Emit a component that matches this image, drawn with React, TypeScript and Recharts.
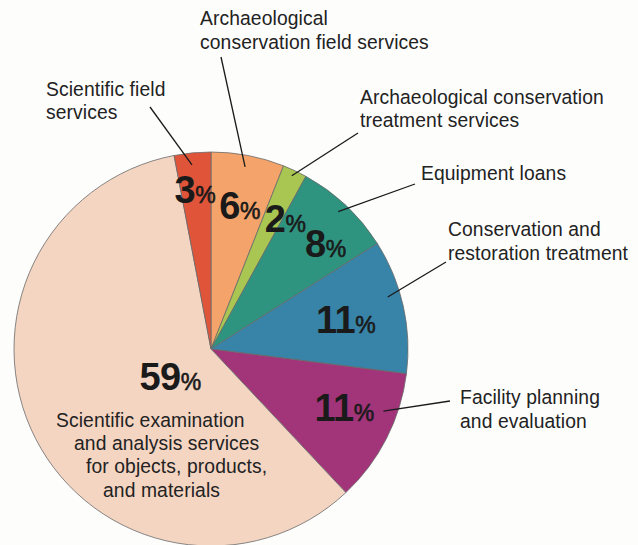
import React from "react";
import { PieChart, Pie, Cell } from "recharts";

// Slices, clockwise from 12 o'clock
const categories = [
  "Archaeological conservation field services",
  "Archaeological conservation treatment services",
  "Equipment loans",
  "Conservation and restoration treatment",
  "Facility planning and evaluation",
  "Scientific examination and analysis services for objects, products, and materials",
  "Scientific field services",
];
const shares = [6, 2, 8, 11, 11, 59, 3];
const labelLines = [
  ["Archaeological", "conservation field services"],
  ["Archaeological conservation", "treatment services"],
  ["Equipment loans"],
  ["Conservation and", "restoration treatment"],
  ["Facility planning", "and evaluation"],
  ["Scientific examination", "and analysis services", "for objects, products,", "and materials"],
  ["Scientific field", "services"],
];
const colors = ["#f4a46a", "#a9c653", "#2e9480", "#3784a8", "#a2347a", "#f4d5c2", "#e0553a"];

// label layout (angles in degrees clockwise relative to slice middle, radii as fraction of outer radius)
const layout = [
  { pOff: 0.6, pR: 0.74, lOff: -0.2, lR: 0.94, to: [221, 57], tx: [200], ty: [25, 49] },
  { pOff: 4.6, pR: 0.76, lOff: -0.2, lR: 0.97, to: [358, 133], tx: [360], ty: [104, 127] },
  { pOff: 4.2, pR: 0.79, lOff: -0.4, lR: 0.95, to: [415, 184], tx: [421], ty: [180] },
  { pOff: 0.4, pR: 0.7, lOff: -3.8, lR: 0.935, to: [446, 262], tx: [448], ty: [236, 260] },
  { pOff: -3.2, pR: 0.74, lOff: -7.2, lR: 0.93, to: [450, 401], tx: [460], ty: [404, 428] },
  { pOff: -7.3, pR: 0.25, lOff: 0, lR: 0, to: null, tx: [56, 74, 86, 103], ty: [427, 450, 473, 497] },
  { pOff: -0.3, pR: 0.81, lOff: -0.5, lR: 0.94, to: [150, 107], tx: [46], ty: [96, 119] },
];

const data = categories.map((name, i) => ({ name, value: shares[i] }));
const FONT = '"Liberation Sans", Arial, Helvetica, sans-serif';

const renderLabel = (props: any) => {
  const { cx, cy, midAngle, outerRadius, index, value } = props;
  const L = layout[index];
  const mid = 90 - midAngle;
  const pt = (deg: number, frac: number) => {
    const a = (deg * Math.PI) / 180;
    return [cx + outerRadius * frac * Math.sin(a), cy - outerRadius * frac * Math.cos(a)];
  };
  const [px, py] = pt(mid + L.pOff, L.pR);
  const lines = labelLines[index];
  return (
    <g key={`lab-${index}`}>
      <text
        x={px}
        y={py + 13}
        textAnchor="middle"
        fontFamily={FONT}
        fill="#1a1a1a"
      >
        <tspan fontSize={38} fontWeight="bold" letterSpacing={-0.5}>{value}</tspan>
        <tspan fontSize={23} stroke="#1a1a1a" strokeWidth={0.6}>%</tspan>
      </text>
      {L.to && (() => {
        const [lx, ly] = pt(mid + L.lOff, L.lR);
        return <line x1={lx} y1={ly} x2={L.to[0]} y2={L.to[1]} stroke="#1a1a1a" strokeWidth={1.3} />;
      })()}
      {lines.map((s, j) => (
        <text
          key={j}
          x={L.tx[Math.min(j, L.tx.length - 1)]}
          y={L.ty[j]}
          fontFamily={FONT}
          fontSize={19.3}
          letterSpacing={0.1}
          fill="#222"
        >
          {s}
        </text>
      ))}
    </g>
  );
};

export default function App() {
  return (
    <div style={{ position: "absolute", left: 0, top: 0, width: 638, height: 545, background: "#fdfdfc" }}>
      <PieChart width={638} height={545} margin={{ top: 0, right: 0, bottom: 0, left: 0 }}>
        <Pie
          data={data}
          dataKey="value"
          nameKey="name"
          cx={211}
          cy={349}
          outerRadius={197}
          startAngle={90}
          endAngle={-270}
          stroke="#6a6a6a"
          strokeWidth={0.8}
          isAnimationActive={false}
          labelLine={false}
          label={renderLabel}
        >
          {data.map((d, i) => (
            <Cell key={d.name} fill={colors[i]} />
          ))}
        </Pie>
      </PieChart>
    </div>
  );
}
